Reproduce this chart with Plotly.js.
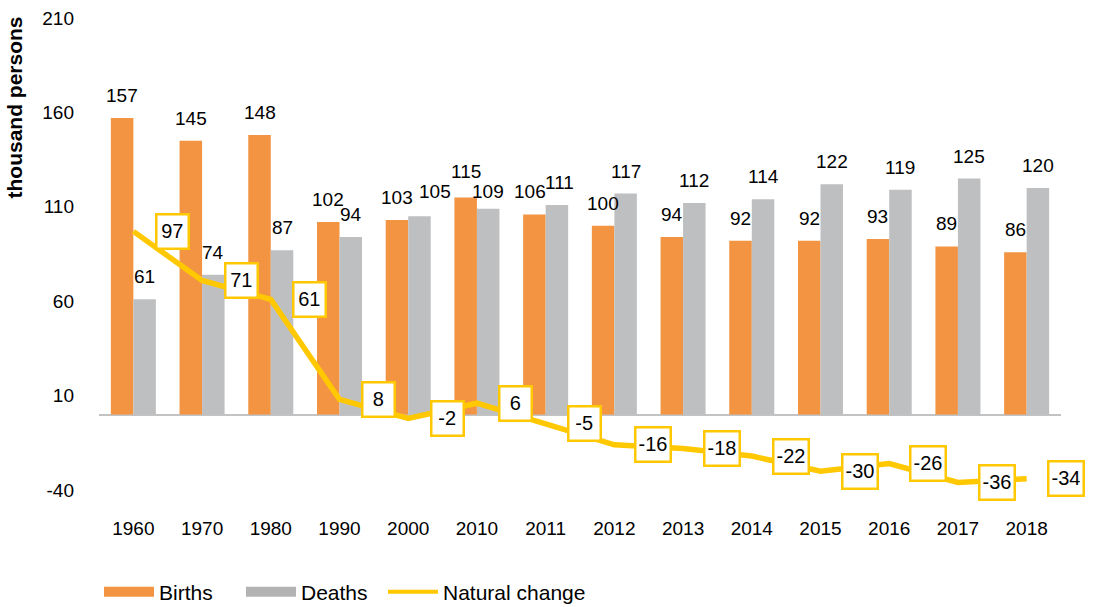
<!DOCTYPE html>
<html>
<head>
<meta charset="utf-8">
<script src="https://cdn.plot.ly/plotly-3.0.1.min.js"></script>
<style>html,body{margin:0;padding:0;background:#fff}#chart{width:1097px;height:607px}</style>
</head>
<body>
<div id="chart"></div>
<script>
const years = ["1960","1970","1980","1990","2000","2010","2011","2012","2013","2014","2015","2016","2017","2018"];
const births = [157,145,148,102,103,115,106,100,94,92,92,93,89,86];
const deaths = [61,74,87,94,105,109,111,117,112,114,122,119,125,120];
const naturalChange = [97,71,61,8,-2,6,-5,-16,-18,-22,-30,-26,-36,-34];
const yTicks = [-40,10,60,110,160,210];

// small nudges of crowded value labels (pixels), keyed by series and category
const labelNudge = {
  "Deaths|2000": {dx:16, dy:2},
  "Deaths|2010": {dx:0, dy:-5},
  "Births|2010": {dx:0, dy:3},
  "Births|2011": {dx:-4, dy:0},
  "Deaths|2011": {dx:3, dy:0}
};

const FONT = "Liberation Sans, Arial, Helvetica, sans-serif";
const ORANGE = "#F29441";
const GREY = "#BEBFC1";
const YELLOW = "#FFC800";
const BARGAP = 0.345;
const halfBar = (1 - BARGAP) / 4;

const traces = [
  {type:"bar", name:"Births", x:years, y:births, marker:{color:ORANGE}, showlegend:false},
  {type:"bar", name:"Deaths", x:years, y:deaths, marker:{color:GREY}, showlegend:false},
  {type:"scatter", mode:"lines", name:"Natural change", x:years, y:naturalChange,
   line:{color:YELLOW,width:5.5}, cliponaxis:false, showlegend:false},
  // legend entries
  {type:"scatter", mode:"lines", name:"Births", x:[null], y:[null], line:{color:ORANGE,width:11}},
  {type:"scatter", mode:"lines", name:"Deaths", x:[null], y:[null], line:{color:"#B3B3B3",width:11}},
  {type:"scatter", mode:"lines", name:"Natural change", x:[null], y:[null], line:{color:YELLOW,width:4}},
  {type:"scatter", mode:"lines", name:" ", x:[null], y:[null], line:{color:"rgba(0,0,0,0)",width:0}}
];

const annotations = [];
function barLabels(series, vals, sign) {
  vals.forEach((v,i)=>{
    const n = labelNudge[series + "|" + years[i]] || {dx:0, dy:0};
    annotations.push({
      x:i + sign*halfBar, y:v, xref:"x", yref:"y", text:String(v), showarrow:false,
      yanchor:"bottom", yshift:10 + n.dy, xshift:n.dx,
      font:{family:FONT,size:19,color:"#000"}
    });
  });
}
barLabels("Births", births, -1);
barLabels("Deaths", deaths, 1);

naturalChange.forEach((v,i)=>{
  const s = String(v);
  const a = {
    x:i, y:v, xref:"x", yref:"y", text:s, showarrow:false,
    xshift:39, font:{family:FONT,size:20,color:"#000"},
    bgcolor:"#fff", bordercolor:YELLOW, borderwidth:2.5, borderpad:2, height:27.5
  };
  if (s.length < 3) a.width = 25.5;
  annotations.push(a);
});

annotations.push({
  xref:"paper", yref:"paper", x:0, y:1, xanchor:"right", yanchor:"top",
  xshift:-72, yshift:3, textangle:-90, showarrow:false,
  text:"<b>thousand persons</b>", font:{family:FONT,size:21,color:"#000"}
});

const layout = {
  width:1097, height:607,
  margin:{l:99, r:36, t:18, b:92, autoexpand:false},
  paper_bgcolor:"#fff", plot_bgcolor:"#fff",
  font:{family:FONT,size:19,color:"#000"},
  barmode:"group", bargap:BARGAP, bargroupgap:0,
  showlegend:true,
  legend:{orientation:"h", x:0, xanchor:"left", y:-0.155, yanchor:"middle",
          itemwidth:50, entrywidth:77, font:{family:FONT,size:21,color:"#000"}, traceorder:"normal"},
  xaxis:{type:"category", showgrid:false, showline:false, ticks:"",
         tickfont:{family:FONT,size:19,color:"#000"}, range:[-0.5,13.5]},
  yaxis:{range:[-53.2,210], tickvals:yTicks, ticktext:yTicks.map(String),
         showgrid:false, showline:false,
         zeroline:true, zerolinecolor:"#C3C3C3", zerolinewidth:2,
         ticks:"", ticklabelstandoff:24,
         tickfont:{family:FONT,size:19,color:"#000"}},
  annotations:annotations
};

Plotly.newPlot("chart", traces, layout, {displayModeBar:false, staticPlot:true});
</script>
</body>
</html>
